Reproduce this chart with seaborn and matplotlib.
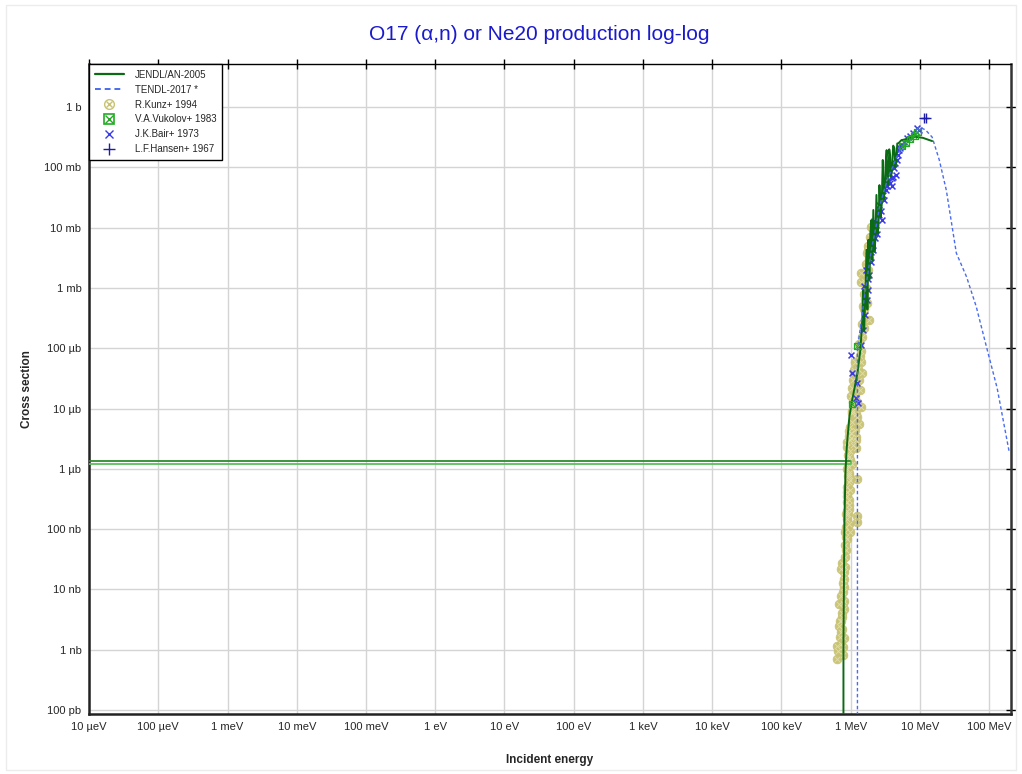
import seaborn as sns
import matplotlib.pyplot as plt
from matplotlib.lines import Line2D
from matplotlib.legend_handler import HandlerTuple
from matplotlib.patches import Rectangle

# energies in MeV, cross sections in barn
jendl_flat_e = [1e-11, 0.97]
jendl_flat_xs = [1.36e-6, 1.36e-6]
lowres_flat_e = [1e-11, 1.0, 1.0]
lowres_flat_xs = [1.22e-6, 1.22e-6, 1.36e-6]

jendl_e = [0.785, 0.785, 0.80, 0.811, 0.84, 0.87, 0.896, 0.957, 1.05, 1.16, 1.25, 1.38, 1.47, 1.51,
           1.56, 1.62, 1.69, 1.74, 1.80, 1.86, 1.92, 1.99, 2.05, 2.12, 2.20, 2.27, 2.35, 2.44,
           2.52, 2.60, 2.70, 2.80, 2.90, 3.00, 3.10, 3.20, 3.30, 3.40, 3.50, 3.60, 3.70, 3.82,
           3.94, 4.10, 4.27, 4.40, 4.55, 4.70, 4.90, 5.40, 5.90, 6.50, 7.40, 8.50, 9.5,
           11.0, 13.0, 15.0]
jendl_xs = [1e-12, 1.5e-9, 2.0e-8, 1.45e-7, 9e-7, 2.0e-6, 3.1e-6, 7.4e-6, 1.4e-5, 2.5e-5, 3.9e-5,
            9.5e-5, 3.0e-4, 9.3e-4, 2.0e-4, 6.3e-4, 4.3e-3, 4.4e-4, 6.3e-3, 1.4e-3, 8.0e-3,
            1.34e-2, 2.9e-3, 1.97e-2, 4.0e-3, 6.3e-3, 3.5e-2, 8.0e-3, 1.1e-2, 5.1e-2, 1.5e-2,
            2.4e-2, 0.133, 0.03, 0.042, 0.12, 0.194, 0.05, 0.075, 0.20, 0.16, 0.07, 0.09, 0.23,
            0.21, 0.10, 0.133, 0.25, 0.253, 0.284, 0.29, 0.30, 0.31, 0.32, 0.318, 0.31, 0.29,
            0.274]

tendl_e = [1.25, 1.25, 1.40, 1.60, 1.80, 2.0, 2.3, 2.6, 3.0, 3.5, 4.0, 4.5, 5.0, 6.0, 7.0,
           8.0, 9.0, 9.8, 12.0, 15.0, 19.0, 24.0, 33.5, 47.0, 65.0, 91.0, 130.0, 195.0]
tendl_xs = [1e-12, 1.0e-4, 2.5e-4, 8e-4, 2e-3, 4.5e-3, 1e-2, 2.2e-2, 4e-2, 7e-2, 0.1, 0.14,
            0.18, 0.25, 0.32, 0.38, 0.44, 0.467, 0.42, 0.318, 0.133, 0.042, 3.8e-3, 1.54e-3,
            4.9e-4, 1.07e-4, 2.2e-5, 1.87e-6]

kunz_e = [0.643, 0.643, 0.734, 0.785, 0.785, 0.811, 0.734, 0.759, 0.687, 0.759, 0.811, 0.687,
          0.734, 0.811, 0.734, 0.811, 0.759, 0.867, 0.896, 0.957, 0.896, 1.25, 1.25, 0.957,
          0.896, 0.957, 1.25, 0.957, 0.896, 1.21, 1.023, 1.25, 1.43, 1.34, 1.13, 1.47, 1.47,
          1.86, 1.69, 1.43, 1.43, 1.74, 1.99, 0.88, 0.88, 0.88, 0.88, 0.93, 0.93, 0.93, 0.93,
          0.98, 0.98, 0.98, 0.98, 1.03, 1.03, 1.03, 1.08, 1.08, 1.08, 1.15, 1.15, 1.15, 1.2,
          1.2, 1.3, 1.3, 1.4, 1.4, 1.55, 1.55, 1.55, 1.65, 1.65, 1.8, 1.8, 1.9, 0.84, 0.84,
          0.78, 0.78, 0.70,
          0.66, 0.70, 0.72, 0.75, 0.77, 0.79, 0.80, 0.82, 0.83, 0.85, 0.86, 0.87, 0.89, 0.90,
          0.91, 0.92, 0.94, 0.95, 0.96, 0.97, 0.99, 1.00, 1.01, 1.05, 1.06, 1.10, 1.12, 1.18,
          1.22, 1.27, 1.33, 1.37, 1.45, 1.50, 1.58, 1.62, 1.72, 1.76, 1.83, 0.90, 0.86, 0.93]
kunz_xs = [7.0e-10, 1.15e-9, 1.24e-9, 1.10e-9, 8.1e-10, 1.56e-9, 1.95e-9, 2.19e-9, 2.46e-9,
           3.5e-9, 4.7e-9, 5.7e-9, 7.7e-9, 1.48e-8, 2.16e-8, 1.93e-8, 2.8e-8, 4.6e-8, 6.8e-8,
           1.20e-7, 1.45e-7, 1.30e-7, 1.63e-7, 3.1e-7, 4.07e-7, 8.7e-7, 6.7e-7, 1.6e-6, 2.35e-6,
           3.07e-6, 4.0e-6, 7.4e-6, 1.08e-5, 2.06e-5, 4.4e-5, 3.9e-5, 1.56e-4, 2.98e-4, 5.7e-4,
           1.27e-3, 1.79e-3, 3.83e-3, 1.03e-2, 2.0e-7, 5e-7, 1.0e-6, 2.8e-6, 2.5e-7, 6e-7,
           1.3e-6, 3.5e-6, 9e-8, 4.5e-7, 2.0e-6, 5e-6, 1.2e-6, 6e-6, 9e-6, 2.5e-6, 1.3e-5,
           3e-5, 4.5e-6, 1.6e-5, 6e-5, 2.2e-6, 8e-6, 5.5e-6, 3e-5, 6e-5, 9e-5, 2.2e-4, 4.5e-4,
           8e-4, 1.0e-3, 2.5e-3, 2e-3, 5e-3, 7e-3, 3.5e-8, 9e-8, 1.3e-8, 6e-9, 3e-9,
           9.5e-10, 1.6e-9, 3.0e-9, 4.0e-9, 9.0e-9, 1.1e-8, 6.5e-9, 2.4e-8, 5.5e-8, 7.5e-8,
           1.1e-7, 2.8e-7, 3.5e-7, 7.5e-7, 1.7e-6, 1.1e-6, 2.2e-7, 4.2e-6, 3.0e-6, 6.5e-7,
           1.4e-6, 3.2e-6, 1.6e-5, 2.2e-5, 8.5e-6, 1.1e-5, 4.0e-5, 3.4e-6, 1.3e-5, 4.5e-5,
           1.2e-4, 7.5e-5, 2.5e-4, 5.0e-4, 1.3e-3, 6.5e-4, 1.6e-3, 4.2e-3, 3.0e-3, 1.8e-7,
           1.8e-7, 8.0e-7]

vukolov_e = [9.2, 8.3, 7.2, 6.3, 5.5, 1.25, 1.05]
vukolov_xs = [0.386, 0.33, 0.295, 0.254, 0.226, 1.1e-4, 1.2e-5]

bair_e = [1.02, 1.05, 1.25, 1.21, 1.29, 1.43, 1.51, 1.62, 1.69, 1.80, 1.86, 1.99, 2.12, 2.27,
          2.35, 2.52, 2.60, 2.80, 3.0, 3.2, 3.4, 3.6, 3.7, 3.94, 4.27, 4.55, 4.7, 5.0, 5.4,
          5.9, 6.5, 7.2, 7.9, 9.2, 9.8,
          1.55, 1.65, 1.75, 1.95, 2.05, 2.20, 2.40, 2.70, 2.95, 3.3, 3.5, 3.8, 4.0, 4.1,
          4.4, 4.8, 5.2]
bair_xs = [7.8e-5, 3.9e-5, 2.7e-5, 1.5e-5, 1.26e-5, 1.15e-4, 2.0e-4, 3.6e-4, 6.3e-4, 9.3e-4,
           1.65e-3, 2.7e-3, 4.3e-3, 6.8e-3, 1.1e-2, 1.6e-2, 2.4e-2, 1.35e-2, 2.9e-2, 4.2e-2,
           6.2e-2, 9.1e-2, 5.5e-2, 6.6e-2, 9.8e-2, 7.5e-2, 0.133, 0.194, 0.235, 0.263, 0.307,
           0.33, 0.37, 0.45, 0.415,
           1.1e-3, 2.0e-3, 1.4e-3, 4.0e-3, 6.0e-3, 1.3e-2, 8.0e-3, 1.9e-2, 3.5e-2, 5.0e-2,
           8.0e-2, 0.11, 0.05, 0.07, 0.12, 0.16, 0.21]

hansen_e = [11.5, 12.3]
hansen_xs = [0.66, 0.66]

x_ticks = [1e-5, 1e-4, 1e-3, 1e-2, 1e-1, 1, 10, 100, 1e3, 1e4, 1e5, 1e6, 1e7, 1e8]
x_tick_labels = ['10 µeV', '100 µeV', '1 meV', '10 meV', '100 meV', '1 eV', '10 eV', '100 eV',
                 '1 keV', '10 keV', '100 keV', '1 MeV', '10 MeV', '100 MeV']
y_ticks = [1e-10, 1e-9, 1e-8, 1e-7, 1e-6, 1e-5, 1e-4, 1e-3, 1e-2, 1e-1, 1]
y_tick_labels = ['100 pb', '1 nb', '10 nb', '100 nb', '1 µb', '10 µb', '100 µb', '1 mb',
                 '10 mb', '100 mb', '1 b']

MEV = 1e6
c_jendl = '#0b6b14'
c_tendl = '#4a6cf0'
c_kunz = '#c8c272'
c_vuk = '#22aa22'
c_bair = '#3a3ae8'
c_hansen = '#1c1ca8'

sns.set_style('white')
plt.rcParams['font.family'] = ['Liberation Sans', 'DejaVu Sans']

fig = plt.figure(figsize=(10.22, 7.74), dpi=100)
ax = fig.add_axes([0.0871, 0.0775, 0.9021, 0.8398])

def ev(vals):
    return [v * MEV for v in vals]

# data points
sns.scatterplot(x=ev(kunz_e), y=kunz_xs, ax=ax, marker='o', s=40, color=c_kunz,
                edgecolor=c_kunz, alpha=0.95, zorder=2)
sns.scatterplot(x=ev(kunz_e), y=kunz_xs, ax=ax, marker='x', s=16, color='#e2deaa',
                linewidth=0.6, zorder=2)
sns.scatterplot(x=ev(bair_e), y=bair_xs, ax=ax, marker='x', s=18, color=c_bair,
                linewidth=1.1, zorder=3)

# evaluations
sns.lineplot(x=ev(lowres_flat_e), y=lowres_flat_xs, ax=ax, color='#5cc05c', lw=1.3,
             sort=False, estimator=None, zorder=3)
sns.lineplot(x=ev(jendl_flat_e), y=jendl_flat_xs, ax=ax, color='#2e8b2e', lw=1.3,
             sort=False, estimator=None, zorder=3)
sns.lineplot(x=ev(jendl_e), y=jendl_xs, ax=ax, color=c_jendl, lw=1.4,
             sort=False, estimator=None, zorder=4)
sns.lineplot(x=ev(tendl_e), y=tendl_xs, ax=ax, color=c_tendl, lw=1.0,
             sort=False, estimator=None, zorder=4)
ax.lines[-1].set_dashes([2.5, 1.8])

sns.scatterplot(x=ev(vukolov_e), y=vukolov_xs, ax=ax, marker='s', s=22, facecolor='none',
                edgecolor=c_vuk, linewidth=0.9, zorder=5)
sns.scatterplot(x=ev(vukolov_e), y=vukolov_xs, ax=ax, marker='x', s=14, color=c_vuk,
                linewidth=0.7, zorder=5)
sns.scatterplot(x=ev(hansen_e), y=hansen_xs, ax=ax, marker='+', s=50, color=c_hansen,
                linewidth=1.0, zorder=5)

ax.set_xscale('log')
ax.set_yscale('log')
ax.set_xlim(1e-5, 2.06e8)
ax.set_ylim(8.6e-11, 5.2)
ax.set_xticks(x_ticks)
ax.set_xticklabels(x_tick_labels)
ax.set_yticks(y_ticks)
ax.set_yticklabels(y_tick_labels)
ax.minorticks_off()
ax.grid(True, color='#d4d4d4', lw=1.0)
ax.set_axisbelow(True)
ax.tick_params(axis='both', which='major', direction='inout', length=7, width=1.0,
               labelsize=8, pad=2, color='black', top=True, right=True)

for side in ['left', 'bottom']:
    ax.spines[side].set_linewidth(1.8)
    ax.spines[side].set_color('#222222')
ax.spines['top'].set_linewidth(1.0)
ax.spines['top'].set_color('black')
ax.spines['right'].set_linewidth(1.8)
ax.spines['right'].set_color('#333333')

ax.set_xlabel('Incident energy', fontsize=8.5, fontweight='bold')
ax.set_ylabel('Cross section', fontsize=8.5, fontweight='bold')
ax.xaxis.set_label_coords(0.5, -0.0615)
ax.yaxis.set_label_coords(-0.061, 0.5)
fig.text(0.528, 0.955, 'O17 (α,n) or Ne20 production log-log', ha='center', va='center',
         fontsize=15, color='#1a1acc')

handles = [
    Line2D([], [], color=c_jendl, lw=1.6),
    Line2D([], [], color=c_tendl, lw=1.4, dashes=[3, 2]),
    (Line2D([], [], ls='none', marker='o', ms=7, mfc='none', mec=c_kunz, mew=1.0),
     Line2D([], [], ls='none', marker='x', ms=5, color=c_kunz, mew=1.0)),
    (Line2D([], [], ls='none', marker='s', ms=7, mfc='none', mec=c_vuk, mew=1.2),
     Line2D([], [], ls='none', marker='x', ms=6, color=c_vuk, mew=1.0)),
    Line2D([], [], ls='none', marker='x', ms=6, color=c_bair, mew=1.0),
    Line2D([], [], ls='none', marker='+', ms=9, color=c_hansen, mew=1.0),
]
labels = ['JENDL/AN-2005', 'TENDL-2017 *', 'R.Kunz+ 1994', 'V.A.Vukolov+ 1983',
          'J.K.Bair+ 1973', 'L.F.Hansen+ 1967']
leg = ax.legend(handles, labels, loc='upper left', bbox_to_anchor=(0, 1), borderaxespad=0,
                fontsize=7, frameon=True, fancybox=False, framealpha=1, edgecolor='black',
                handlelength=3.0, handletextpad=1.1, labelspacing=0.5, borderpad=0.6,
                handler_map={tuple: HandlerTuple(ndivide=1)})
leg.get_frame().set_linewidth(1.0)
leg.set_zorder(10)

fig.patches.append(Rectangle((0.006, 0.005), 0.988, 0.988, transform=fig.transFigure,
                             fill=False, edgecolor='#ececec', lw=1.0))

fig.savefig('out.png', dpi=100)
